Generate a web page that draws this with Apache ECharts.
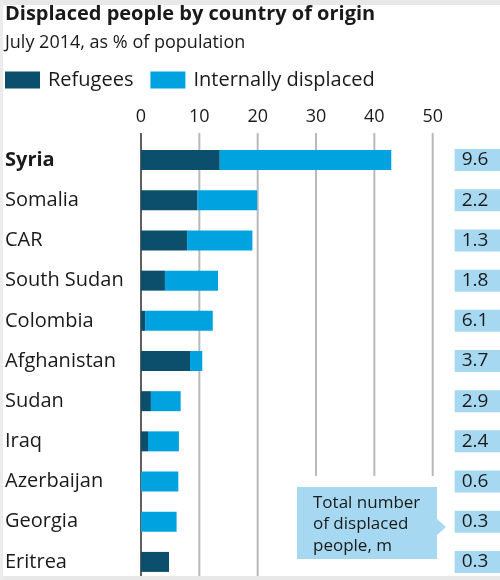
<!DOCTYPE html>
<html>
<head>
<meta charset="utf-8">
<script src="https://cdn.jsdelivr.net/npm/echarts@6/dist/echarts.min.js"></script>
<style>
html,body{margin:0;padding:0;background:#fff;}
#chart{width:500px;height:580px;}
</style>
</head>
<body>
<div id="chart"></div>
<script>
const categories = ['Syria','Somalia','CAR','South Sudan','Colombia','Afghanistan','Sudan','Iraq','Azerbaijan','Georgia','Eritrea'];
const refugees = [13.5, 9.7, 7.9, 4.1, 0.7, 8.4, 1.7, 1.2, 0, 0, 4.8];
const internallyDisplaced = [29.4, 10.2, 11.2, 9.1, 11.6, 2.1, 5.1, 5.3, 6.4, 6.1, 0];
const totalMillions = ['9.6','2.2','1.3','1.8','6.1','3.7','2.9','2.4','0.6','0.3','0.3'];
const gridTicks = [0, 10, 20, 30, 40, 50];

const FONT = 'Open Sans';
const DARK = '#0c4f6c';
const LIGHT = '#00a3e0';
const BOX = '#a6d8f1';
const TXT = '#1a1a1a';
const CALLOUT_TOP = 487;

const chart = echarts.init(document.getElementById('chart'), null, {renderer: 'canvas'});

const option = {
  backgroundColor: '#fff',
  animation: false,
  textStyle: {fontFamily: FONT},
  title: [
    {text: 'Displaced people by country of origin', left: 5, top: 4, padding: 0,
     textStyle: {fontFamily: FONT, fontSize: 20, fontWeight: 'bold', color: TXT}},
    {text: 'July 2014, as % of population', left: 5, top: 34, padding: 0,
     textStyle: {fontFamily: FONT, fontSize: 18, fontWeight: 'normal', color: TXT}}
  ],
  legend: {
    data: ['Refugees', 'Internally displaced'],
    left: 5, top: 70, padding: 0,
    icon: 'rect', itemWidth: 35, itemHeight: 17, itemGap: 17,
    selectedMode: false,
    textStyle: {fontFamily: FONT, fontSize: 20, color: TXT, lineHeight: 20, padding: [0, 0, 0, 3]}
  },
  grid: {left: 141, right: 67.3, top: 140, height: 442, containLabel: false, outerBoundsMode: 'none'},
  xAxis: {
    type: 'value', position: 'top', min: 0, max: 50, interval: 10,
    axisLine: {show: false}, axisTick: {show: false}, splitLine: {show: false},
    axisLabel: {fontFamily: FONT, fontSize: 18, color: TXT, margin: 14}
  },
  yAxis: [
    {
      type: 'category', inverse: true,
      data: categories.map((c, i) => i === 0 ? {value: c, textStyle: {fontWeight: 'bold', align: 'left'}} : c),
      axisLine: {show: false}, axisTick: {show: false},
      axisLabel: {align: 'left', margin: 136, fontFamily: FONT, fontSize: 20, color: TXT}
    },
    {
      type: 'category', inverse: true, position: 'right',
      data: categories,
      axisLine: {show: false}, axisTick: {show: false},
      axisLabel: {
        align: 'left', margin: 22,
        formatter: (v, i) => totalMillions[i],
        fontFamily: FONT, fontSize: 19, color: TXT, lineHeight: 20,
        backgroundColor: BOX, padding: [1, 20, 1, 7]
      }
    }
  ],
  series: [
    {
      type: 'custom', name: 'grid', z: 1, silent: true,
      data: gridTicks.map(v => [v]),
      encode: {x: 0},
      renderItem: function (params, api) {
        const v = api.value(0);
        const x = api.coord([v, 0])[0];
        const cs = params.coordSys;
        const top = cs.y - 7;
        const bottom = v >= 30 ? CALLOUT_TOP - 11 : 576;
        return {
          type: 'line',
          shape: {x1: x, y1: top, x2: x, y2: bottom},
          style: v === 0 ? {stroke: '#2a2a2a', lineWidth: 1.5} : {stroke: '#b9b9b9', lineWidth: 2}
        };
      }
    },
    {name: 'Refugees', type: 'bar', stack: 'a', barWidth: 20, z: 2,
     itemStyle: {color: DARK}, data: refugees},
    {name: 'Internally displaced', type: 'bar', stack: 'a', barWidth: 20, z: 2,
     itemStyle: {color: LIGHT}, data: internallyDisplaced}
  ],
  graphic: [
    {type: 'rect', shape: {x: 0, y: 0, width: 500, height: 5}, style: {fill: '#e8e8e8'}, z: 100},
    {type: 'rect', shape: {x: 0, y: 576, width: 500, height: 4}, style: {fill: '#e8e8e8'}, z: 100},
    {type: 'rect', shape: {x: 0, y: 0, width: 3, height: 580}, style: {fill: '#ececec'}, z: 100},
    {type: 'polygon', z: 50,
     shape: {points: [[297, CALLOUT_TOP], [437, CALLOUT_TOP], [437, 519], [446, 527], [437, 535], [437, 559], [297, 559]]},
     style: {fill: BOX}},
    {type: 'text', z: 51, x: 313, y: CALLOUT_TOP + 5,
     style: {text: 'Total number\nof displaced\npeople, m', fontFamily: FONT, fontSize: 17, lineHeight: 21.5, fill: TXT}}
  ]
};
chart.setOption(option);
</script>
</body>
</html>
